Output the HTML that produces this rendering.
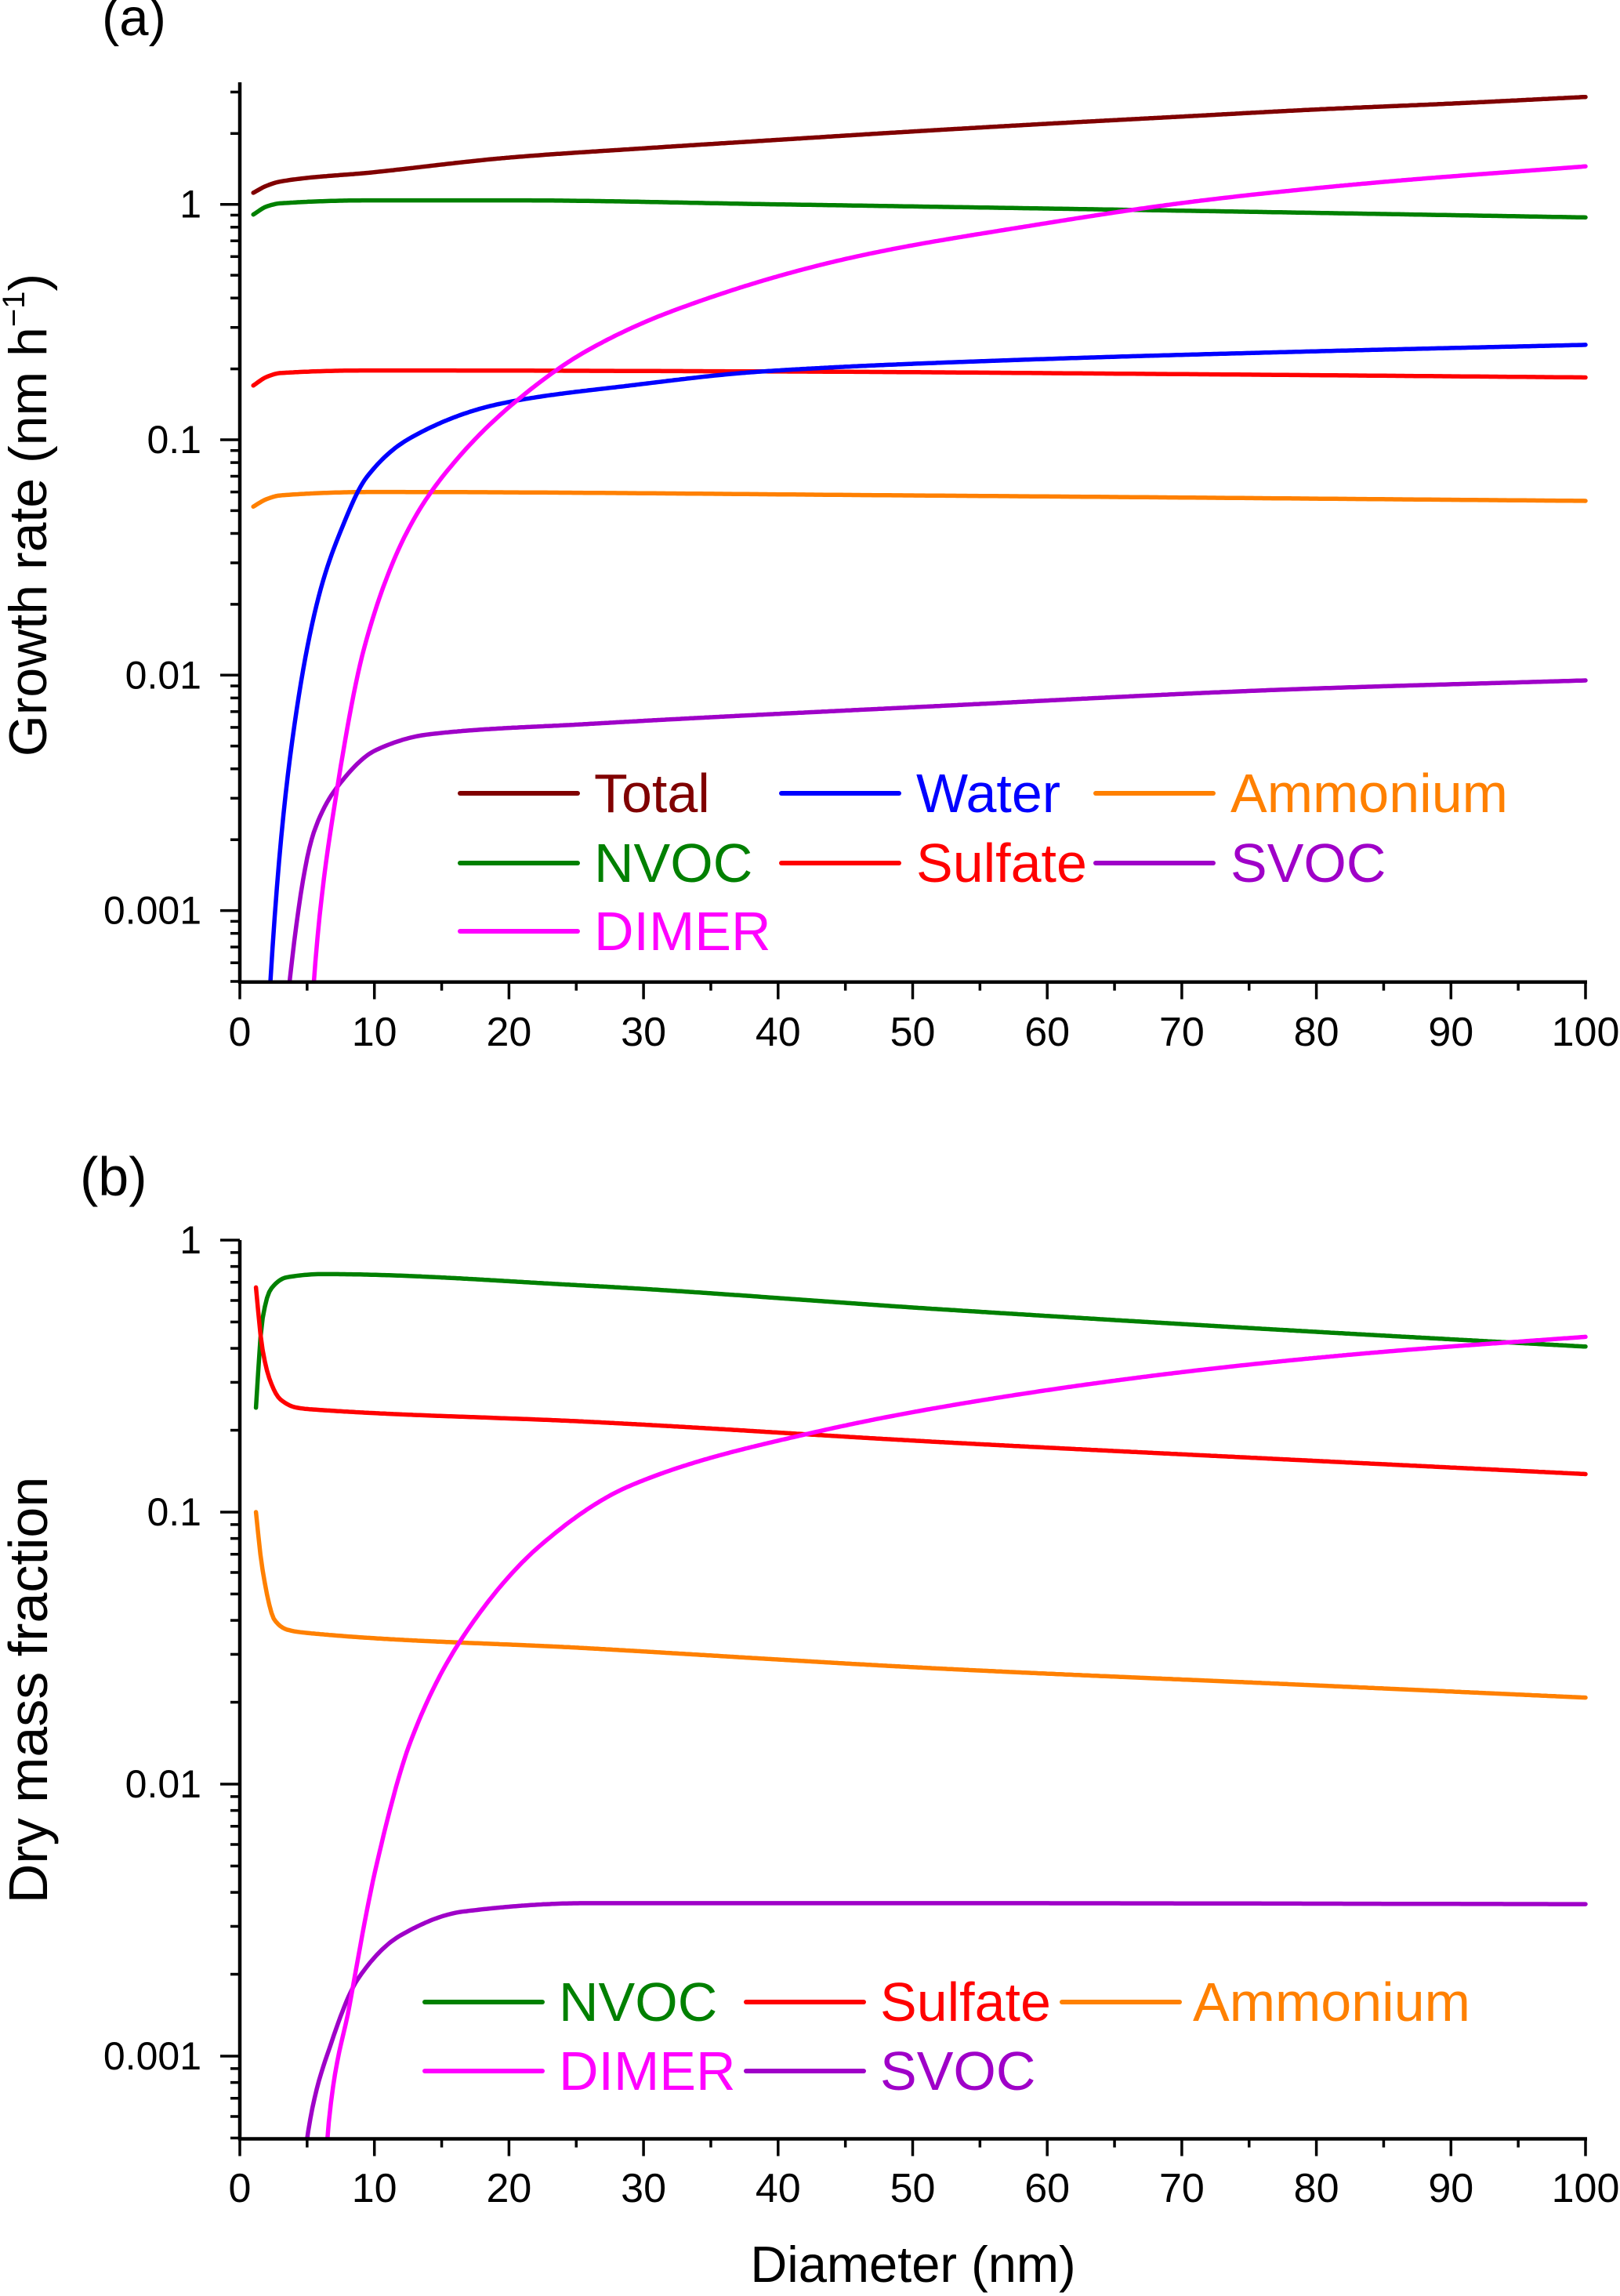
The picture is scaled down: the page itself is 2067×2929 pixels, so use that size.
<!DOCTYPE html>
<html><head><meta charset="utf-8">
<style>
html,body{margin:0;padding:0;background:#fff;}
svg{display:block;font-family:"Liberation Sans",Arial,sans-serif;}
</style></head>
<body>
<svg id="fig" width="2067" height="2926" viewBox="0 0 2067 2926" xmlns="http://www.w3.org/2000/svg"></svg>
<script>
// ---------- Panel (a) data: growth rate (nm/h) ----------
const aTotalD = [1, 2, 3, 10, 20, 30, 40, 50, 60, 70, 80, 90, 100];
const aTotalV = [1.12, 1.2, 1.25, 1.37, 1.58, 1.73, 1.88, 2.04, 2.2, 2.36, 2.53, 2.68, 2.86];
const aNvocD = [1, 2, 3, 10, 20, 40, 60, 80, 100];
const aNvocV = [0.905, 0.98, 1.01, 1.04, 1.04, 1.0, 0.96, 0.92, 0.88];
const aSulfD = [1, 2, 3, 10, 40, 70, 100];
const aSulfV = [0.17, 0.185, 0.192, 0.197, 0.195, 0.19, 0.184];
const aAmmD = [1, 2, 3, 10, 50, 100];
const aAmmV = [0.052, 0.056, 0.058, 0.06, 0.058, 0.055];
const aWaterD = [2.1, 2.27, 3.9, 5.9, 7.5, 9.4, 12.7, 19.3, 29, 38.8, 58.5, 78, 100];
const aWaterV = [0.0003, 0.0005, 0.0053, 0.022, 0.041, 0.069, 0.102, 0.142, 0.17, 0.195, 0.219, 0.236, 0.253];
const aDimerD = [5.3, 5.5, 7.2, 9.4, 12.7, 16, 20.6, 25.8, 32.3, 45.4, 58.5, 71.6, 84.6, 100];
const aDimerV = [0.0003, 0.0005, 0.0032, 0.0141, 0.0435, 0.081, 0.147, 0.239, 0.355, 0.593, 0.807, 1.04, 1.24, 1.45];
const aSvocD = [3.4, 3.7, 5.5, 7.5, 10.1, 14, 25.8, 52, 78, 100];
const aSvocV = [0.0003, 0.0005, 0.00215, 0.0035, 0.0048, 0.0056, 0.0062, 0.0074, 0.0087, 0.0095];

// ---------- Panel (b) data: dry mass fraction ----------
const bNvocD = [1.2, 1.65, 2.3, 3.5, 6.2, 25.8, 52, 78, 100];
const bNvocV = [0.242, 0.5, 0.66, 0.73, 0.75, 0.68, 0.557, 0.466, 0.406];
const bSulfD = [1.2, 1.65, 2.3, 3, 4.25, 6.2, 25.8, 52, 78, 100];
const bSulfV = [0.67, 0.406, 0.30, 0.26, 0.242, 0.237, 0.215, 0.181, 0.156, 0.138];
const bAmmD = [1.2, 1.65, 2.6, 3.5, 4.9, 25.8, 52, 78, 100];
const bAmmV = [0.1, 0.063, 0.040, 0.037, 0.036, 0.0316, 0.0266, 0.0233, 0.0208];
const bDimerD = [6.3, 6.5, 8.2, 10.1, 12.7, 16.6, 22.5, 29, 42.2, 55.2, 71.6, 84.6, 100];
const bDimerV = [0.0003, 0.0005, 0.00158, 0.0049, 0.0144, 0.0349, 0.0767, 0.125, 0.194, 0.258, 0.334, 0.387, 0.441];
const bSvocD = [4.6, 5.0, 6.8, 8.8, 12, 16.6, 25.8, 52, 100];
const bSvocV = [0.0003, 0.0005, 0.00112, 0.00193, 0.00279, 0.0034, 0.00365, 0.00365, 0.00362];

const xTicks = [0, 10, 20, 30, 40, 50, 60, 70, 80, 90, 100];
const yTickVals = [1, 0.1, 0.01, 0.001];
const yTickLabels = ["1", "0.1", "0.01", "0.001"];

const NS = "http://www.w3.org/2000/svg";
const svg = document.getElementById("fig");
function mk(tag, attrs, parent) {
  const e = document.createElementNS(NS, tag);
  for (const k in attrs) e.setAttribute(k, attrs[k]);
  (parent || svg).appendChild(e);
  return e;
}

// monotone cubic (Fritsch-Carlson) in (d, log10 v)
function monotone(xs, ys) {
  const n = xs.length, dx = [], m = [], t = new Array(n);
  for (let i = 0; i < n - 1; i++) { dx.push(xs[i + 1] - xs[i]); m.push((ys[i + 1] - ys[i]) / dx[i]); }
  t[0] = m[0]; t[n - 1] = m[n - 2];
  for (let i = 1; i < n - 1; i++) {
    if (m[i - 1] * m[i] <= 0) t[i] = 0;
    else { const w1 = 2 * dx[i] + dx[i - 1], w2 = dx[i] + 2 * dx[i - 1]; t[i] = (w1 + w2) / (w1 / m[i - 1] + w2 / m[i]); }
  }
  return function (x) {
    let i = 0;
    while (i < n - 2 && x > xs[i + 1]) i++;
    const h = dx[i], s = (x - xs[i]) / h;
    const h00 = 2 * s * s * s - 3 * s * s + 1, h10 = s * s * s - 2 * s * s + s, h01 = -2 * s * s * s + 3 * s * s, h11 = s * s * s - s * s;
    return h00 * ys[i] + h10 * h * t[i] + h01 * ys[i + 1] + h11 * h * t[i + 1];
  };
}

function panel(cfg) {
  const g = mk("g", {});
  
  
  const X = v => cfg.x0 + v * (cfg.x1 - cfg.x0) / 100;
  const YL = lv => cfg.yRef - lv * cfg.dec;
  const Y = v => YL(Math.log10(v));
  const clipId = cfg.name + "-clip";
  const defs = mk("defs", {}, g);
  const cp = mk("clipPath", {id: clipId}, defs);
  mk("rect", {x: cfg.x0, y: cfg.yTop - 5, width: cfg.x1 - cfg.x0 + 10, height: cfg.yBot - cfg.yTop + 5}, cp);

  const sg = mk("g", {"clip-path": "url(#" + clipId + ")"}, g);
  cfg.series.forEach(s => {
    const f = monotone(s.d, s.v.map(v => Math.log10(v)));
    const d0 = s.d[0], d1 = s.d[s.d.length - 1];
    const N = 600;
    let path = "";
    for (let k = 0; k <= N; k++) {
      const dv = d0 + (d1 - d0) * k / N;
      path += (k ? "L" : "M") + X(dv).toFixed(1) + "," + YL(f(dv)).toFixed(1);
    }
    const p = mk("path", {d: path, fill: "none", stroke: s.color, "stroke-width": 5.5, "stroke-linejoin": "round", "stroke-linecap": "round"}, sg);
    
    
  });

  const ax = mk("g", {stroke: "#000", "stroke-width": 4.5}, g);
  
  
  mk("line", {x1: cfg.x0, y1: cfg.yTop, x2: cfg.x0, y2: cfg.yBot + 2}, ax);
  mk("line", {x1: cfg.x0 - 2, y1: cfg.yBot, x2: cfg.x1 + 2, y2: cfg.yBot}, ax);
  for (let v = 0; v <= 100; v += 5) {
    const len = v % 10 === 0 ? 22 : 11;
    mk("line", {x1: X(v), y1: cfg.yBot, x2: X(v), y2: cfg.yBot + len, "stroke-width": 3.5}, ax);
  }
  xTicks.forEach(v => {
    const t = mk("text", {x: X(v), y: cfg.xLabY, "font-size": 52, "text-anchor": "middle", "dominant-baseline": "central", fill: "#000"}, g);
    t.textContent = String(v);
    
    
  });
  for (let e = -4; e <= 1; e++) {
    for (let m = 1; m <= 9; m++) {
      const val = m * Math.pow(10, e);
      const py = Y(val);
      if (py < cfg.yTop - 1 || py > cfg.yBot + 1) continue;
      const len = m === 1 ? 25 : 12;
      mk("line", {x1: cfg.x0 - len, y1: py, x2: cfg.x0, y2: py, "stroke-width": 3.5}, ax);
    }
  }
  yTickVals.forEach((v, i) => {
    const t = mk("text", {x: 257, y: Y(v), "font-size": 50, "text-anchor": "end", "dominant-baseline": "central", fill: "#000"}, g);
    t.textContent = yTickLabels[i];
    
    
  });

  cfg.legend.forEach(l => {
    const lg = mk("g", {}, g);
    
    
    mk("line", {x1: l.lx, y1: l.ly, x2: l.lx + 150, y2: l.ly, stroke: l.color, "stroke-width": 6, "stroke-linecap": "round"}, lg);
    const t = mk("text", {x: l.tx, y: l.ly + 24, "font-size": 70, fill: l.color}, lg);
    t.textContent = l.label;
  });
}

const C = {total: "#800000", nvoc: "#008000", sulf: "#ff0000", amm: "#ff8000", water: "#0000ff", svoc: "#9f00c8", dimer: "#ff00ff"};

panel({
  name: "panel-a", x0: 306, x1: 2023, yRef: 260.7, dec: 300.3, yTop: 105, yBot: 1252.7, xLabY: 1317,
  series: [
    {key: "total", d: aTotalD, v: aTotalV, color: C.total},
    {key: "nvoc", d: aNvocD, v: aNvocV, color: C.nvoc},
    {key: "sulfate", d: aSulfD, v: aSulfV, color: C.sulf},
    {key: "ammonium", d: aAmmD, v: aAmmV, color: C.amm},
    {key: "water", d: aWaterD, v: aWaterV, color: C.water},
    {key: "svoc", d: aSvocD, v: aSvocV, color: C.svoc},
    {key: "dimer", d: aDimerD, v: aDimerV, color: C.dimer}
  ],
  legend: [
    {key: "total", label: "Total", color: C.total, lx: 587, ly: 1012, tx: 758},
    {key: "water", label: "Water", color: C.water, lx: 997, ly: 1012, tx: 1169},
    {key: "ammonium", label: "Ammonium", color: C.amm, lx: 1398, ly: 1012, tx: 1570},
    {key: "nvoc", label: "NVOC", color: C.nvoc, lx: 587, ly: 1101, tx: 758},
    {key: "sulfate", label: "Sulfate", color: C.sulf, lx: 997, ly: 1101, tx: 1169},
    {key: "svoc", label: "SVOC", color: C.svoc, lx: 1398, ly: 1101, tx: 1570},
    {key: "dimer", label: "DIMER", color: C.dimer, lx: 587, ly: 1188, tx: 758}
  ]
});

panel({
  name: "panel-b", x0: 306, x1: 2023, yRef: 1582, dec: 347, yTop: 1582, yBot: 2728.5, xLabY: 2792,
  series: [
    {key: "nvoc", d: bNvocD, v: bNvocV, color: C.nvoc},
    {key: "sulfate", d: bSulfD, v: bSulfV, color: C.sulf},
    {key: "ammonium", d: bAmmD, v: bAmmV, color: C.amm},
    {key: "svoc", d: bSvocD, v: bSvocV, color: C.svoc},
    {key: "dimer", d: bDimerD, v: bDimerV, color: C.dimer}
  ],
  legend: [
    {key: "nvoc", label: "NVOC", color: C.nvoc, lx: 542, ly: 2554, tx: 713},
    {key: "sulfate", label: "Sulfate", color: C.sulf, lx: 952, ly: 2554, tx: 1123},
    {key: "ammonium", label: "Ammonium", color: C.amm, lx: 1355, ly: 2554, tx: 1522},
    {key: "dimer", label: "DIMER", color: C.dimer, lx: 542, ly: 2642, tx: 713},
    {key: "svoc", label: "SVOC", color: C.svoc, lx: 952, ly: 2642, tx: 1123}
  ]
});
</script>
<div style="position:absolute;left:0;top:0;width:2067px;height:2926px;pointer-events:none;font-family:'Liberation Sans',Arial,sans-serif;">
  <div style="position:absolute;left:130px;top:-17px;font-size:67px;line-height:80px;">(a)</div>
  <div style="position:absolute;left:102px;top:1461px;font-size:70px;line-height:80px;">(b)</div>
  <div style="position:absolute;left:36px;top:657px;transform:translate(-50%,-50%) rotate(-90deg);font-size:68px;white-space:nowrap;line-height:80px;">Growth rate (nm h<sup style="font-size:40px;vertical-align:28px;line-height:0">−1</sup>)</div>
  <div style="position:absolute;left:36px;top:2156px;transform:translate(-50%,-50%) rotate(-90deg);font-size:70px;white-space:nowrap;line-height:80px;">Dry mass fraction</div>
  <div style="position:absolute;left:1165px;top:2889px;transform:translate(-50%,-50%);font-size:65px;white-space:nowrap;line-height:80px;">Diameter (nm)</div>
</div>
</body></html>
